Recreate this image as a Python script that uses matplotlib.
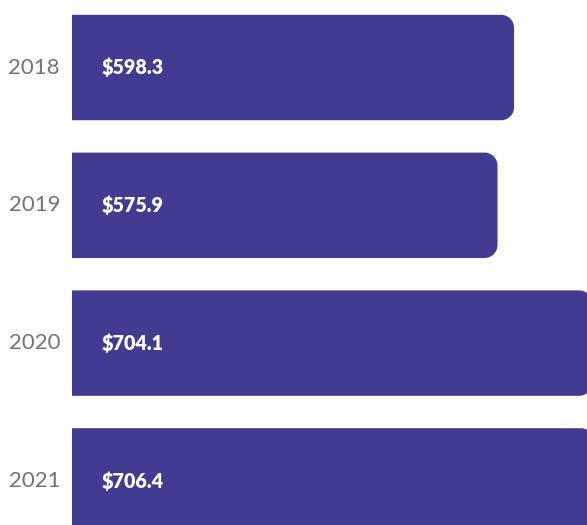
import matplotlib
matplotlib.use("Agg")
import matplotlib.pyplot as plt
from matplotlib.path import Path
from matplotlib.patches import PathPatch

years = ["2018", "2019", "2020", "2021"]
values = [598.3, 575.9, 704.1, 706.4]
labels = ["$598.3", "$575.9", "$704.1", "$706.4"]

BAR = "#413b91"
W, H = 587, 525
fig = plt.figure(figsize=(W / 100, H / 100), dpi=100)
ax = fig.add_axes([72 / W, 0, 1 - 72 / W, 1])
ax.set_xlim(0, 697)
ax.set_ylim(3.32, -0.49)
ax.axis("off")

bh = 0.765
px_x = (W - 72) / 697
px_y = H / (3.32 + 0.49)
r_px = 13
rx = r_px / px_x
ry = r_px / px_y
k = 0.5523


def right_rounded_bar(x1, yc, h):
    y0, y1 = yc - h / 2, yc + h / 2
    verts = [
        (0, y0),
        (x1 - rx, y0),
        (x1 - rx + k * rx, y0), (x1, y0 + ry - k * ry), (x1, y0 + ry),
        (x1, y1 - ry),
        (x1, y1 - ry + k * ry), (x1 - rx + k * rx, y1), (x1 - rx, y1),
        (0, y1),
        (0, y0),
    ]
    codes = [Path.MOVETO, Path.LINETO,
             Path.CURVE4, Path.CURVE4, Path.CURVE4,
             Path.LINETO,
             Path.CURVE4, Path.CURVE4, Path.CURVE4,
             Path.LINETO, Path.CLOSEPOLY]
    return Path(verts, codes)


for i, (y, v, lab) in enumerate(zip(years, values, labels)):
    ax.add_patch(PathPatch(right_rounded_bar(v, i, bh), facecolor=BAR,
                           edgecolor="none", clip_on=False))
    ax.text(30 / px_x, i, lab, color="white", fontsize=14.2, fontweight="heavy",
            family=["Lato", "DejaVu Sans"], va="center", ha="left")
    ax.text(-12 / px_x, i, y, color="#737373", fontsize=16,
            family=["Lato", "DejaVu Sans"], va="center", ha="right", clip_on=False)

fig.savefig("out.png", dpi=100)
